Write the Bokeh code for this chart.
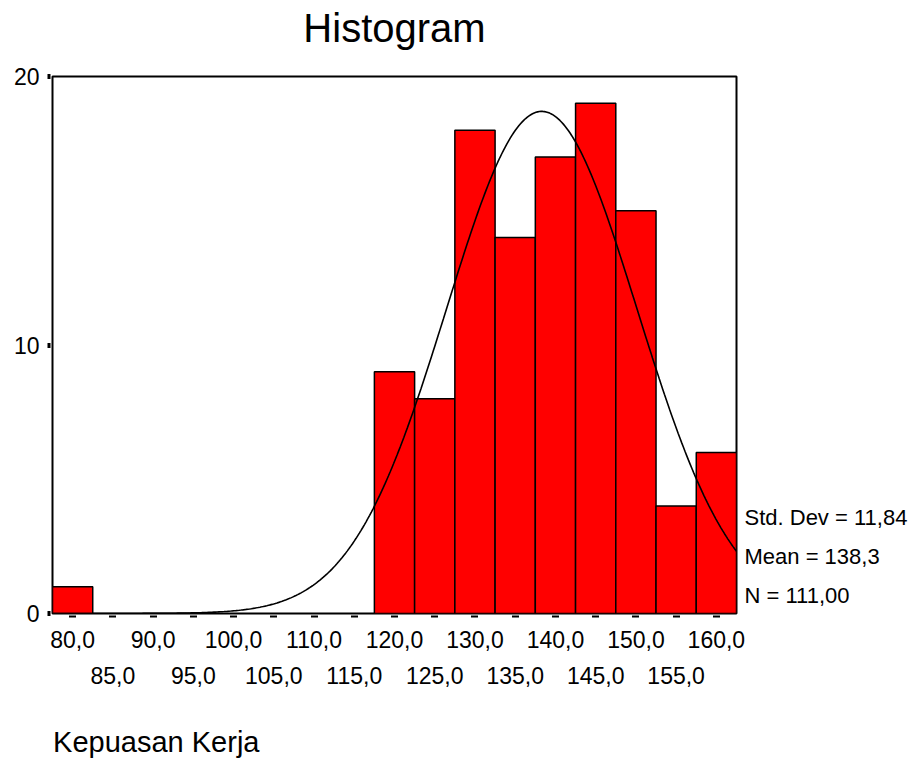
import numpy as np
from bokeh.plotting import figure
from bokeh.models import LinearAxis, FixedTicker, Range1d, ColumnDataSource
from bokeh.embed import file_html
from bokeh.resources import INLINE

# ---- data ----
bin_centers = [80, 85, 90, 95, 100, 105, 110, 115, 120, 125, 130, 135, 140, 145, 150, 155, 160]
counts = [1, 0, 0, 0, 0, 0, 0, 0, 9, 8, 18, 14, 17, 19, 15, 4, 6]
bin_width = 5
row1_ticks = [80, 90, 100, 110, 120, 130, 140, 150, 160]
row2_ticks = [85, 95, 105, 115, 125, 135, 145, 155]
y_ticks = [0, 10, 20]
mean_val = 138.3
sd_val = 11.84
n_val = 111
stats_labels = ["Std. Dev = 11,84", "Mean = 138,3", "N = 111,00"]
title_text = "Histogram"
x_label = "Kepuasan Kerja"

FONT = "Liberation Sans"
X_LO, X_HI = 77.5, 162.5

def fmt(v):
    return ("%.1f" % v).replace(".", ",")

p = figure(width=910, height=761,
           x_range=Range1d(X_LO, X_HI), y_range=Range1d(0, 20),
           output_backend="svg", toolbar_location=None,
           x_axis_location=None, y_axis_location=None,
           min_border_left=52, min_border_right=173,
           min_border_top=76, min_border_bottom=148)

p.grid.visible = False
p.outline_line_color = "black"
p.outline_line_width = 2
p.background_fill_color = "white"
p.border_fill_color = "white"

# bars
src = ColumnDataSource(dict(
    left=[c - bin_width / 2 for c, n in zip(bin_centers, counts) if n > 0],
    right=[c + bin_width / 2 for c, n in zip(bin_centers, counts) if n > 0],
    top=[n for n in counts if n > 0],
))
p.quad(left="left", right="right", bottom=0, top="top", source=src,
       fill_color="#FF0000", line_color="black", line_width=1.5)

# fitted normal curve from the stated statistics
xs = np.linspace(X_LO, X_HI, 400)
ys = n_val * bin_width / (sd_val * np.sqrt(2 * np.pi)) * np.exp(-0.5 * ((xs - mean_val) / sd_val) ** 2)
p.line(xs, ys, line_color="black", line_width=1.6)

def style_axis(ax, size="23px"):
    ax.major_label_text_font = FONT
    ax.major_label_text_font_size = size
    ax.major_label_text_color = "black"
    ax.axis_line_color = None
    ax.minor_tick_line_color = None

def text_axis(ax):
    ax.major_tick_line_color = None
    ax.major_tick_in = 0
    ax.major_tick_out = 0

# title: a text-only axis above the frame, centred over it
title_x = (X_LO + X_HI) / 2
at = LinearAxis(ticker=FixedTicker(ticks=[title_x]))
style_axis(at, "40px")
text_axis(at)
at.major_label_overrides = {title_x: title_text}
at.major_label_standoff = 27
p.add_layout(at, "above")

# x axis row 1 (with all tick marks)
ax1 = LinearAxis(ticker=FixedTicker(ticks=bin_centers))
style_axis(ax1)
ax1.major_label_overrides = {c: (fmt(c) if c in row1_ticks else "") for c in bin_centers}
ax1.major_tick_in = -2
ax1.major_tick_out = 4
ax1.major_tick_line_width = 7
ax1.major_tick_line_color = "black"
ax1.major_label_standoff = 13
p.add_layout(ax1, "below")

# x axis row 2
ax2 = LinearAxis(ticker=FixedTicker(ticks=row2_ticks))
style_axis(ax2)
text_axis(ax2)
ax2.major_label_overrides = {c: fmt(c) for c in row2_ticks}
ax2.major_label_standoff = 16
p.add_layout(ax2, "below")

# x label: text-only axis, positioned so the text starts at the frame's left edge
xlab_x = X_LO + 12.9
ax3 = LinearAxis(ticker=FixedTicker(ticks=[xlab_x]))
style_axis(ax3, "29px")
text_axis(ax3)
ax3.major_label_overrides = {xlab_x: x_label}
ax3.major_label_standoff = 39
p.add_layout(ax3, "below")

# y axis
ay = LinearAxis(ticker=FixedTicker(ticks=y_ticks))
style_axis(ay)
ay.major_tick_in = -2
ay.major_tick_out = 5
ay.major_tick_line_width = 5
ay.major_tick_line_color = "black"
ay.major_label_standoff = 8
p.add_layout(ay, "left")

# statistics on the right
stat_pos = [3.57, 2.14, 0.67]
ar = LinearAxis(ticker=FixedTicker(ticks=stat_pos))
style_axis(ar, "22px")
text_axis(ar)
ar.major_label_overrides = {v: t for v, t in zip(stat_pos, stats_labels)}
ar.major_label_standoff = 8
p.add_layout(ar, "right")

open("out.html", "w").write(file_html(p, INLINE))
